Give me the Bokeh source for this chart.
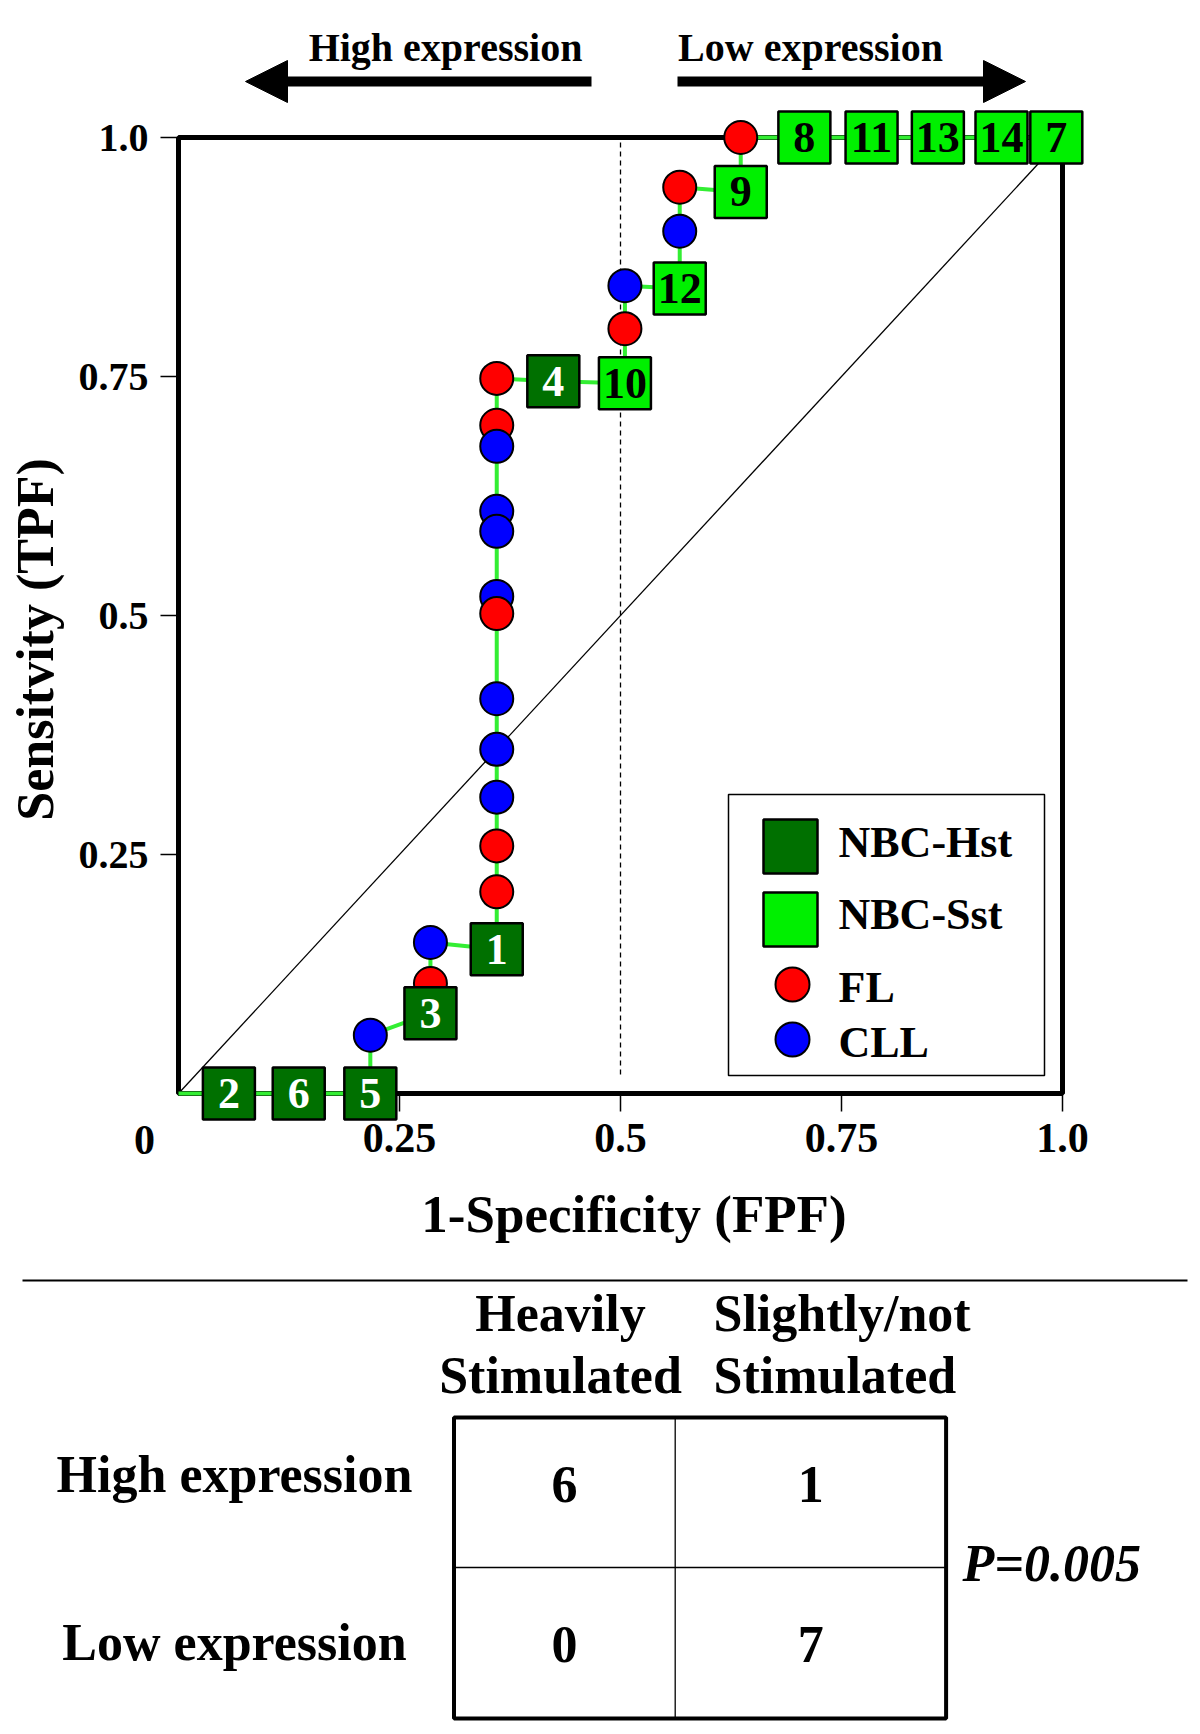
import numpy as np
from bokeh.plotting import figure
from bokeh.models import Range1d, FixedTicker, ColumnDataSource, Arrow, NormalHead
from bokeh.layouts import column
from bokeh.embed import file_html
from bokeh.resources import INLINE
from bokeh.core.properties import value

# ---------------- data ----------------
hst_labels = ["2", "6", "5", "3", "1", "4"]
hst_fpf = [0.057, 0.136, 0.217, 0.285, 0.360, 0.424]
hst_tpf = [0.0, 0.0, 0.0, 0.084, 0.151, 0.745]

sst_labels = ["10", "12", "9", "8", "11", "13", "14", "7"]
sst_fpf = [0.505, 0.567, 0.636, 0.708, 0.784, 0.859, 0.931, 0.993]
sst_tpf = [0.743, 0.842, 0.943, 1.0, 1.0, 1.0, 1.0, 1.0]

fl_fpf = [0.285, 0.360, 0.360, 0.360, 0.360, 0.360, 0.505, 0.567, 0.636]
fl_tpf = [0.115, 0.211, 0.259, 0.502, 0.699, 0.748, 0.800, 0.948, 1.0]

cll_fpf = [0.217, 0.285, 0.360, 0.360, 0.360, 0.360, 0.360, 0.360, 0.360, 0.505, 0.567]
cll_tpf = [0.061, 0.158, 0.310, 0.360, 0.413, 0.520, 0.588, 0.609, 0.677, 0.845, 0.902]

roc_origin = [0.0, 0.0]
chance_line = [0.0, 1.0]
cutoff_fpf = 0.5

x_ticks = [0.25, 0.5, 0.75, 1.0]
x_tick_labels = ["0.25", "0.5", "0.75", "1.0"]
y_ticks = [0.25, 0.5, 0.75, 1.0]
y_tick_labels = ["0.25", "0.5", "0.75", "1.0"]
origin_label = "0"
x_title = "1-Specificity (FPF)"
y_title = "Sensitvity (TPF)"

legend_labels = ["NBC-Hst", "NBC-Sst", "FL", "CLL"]
direction_labels = ["High expression", "Low expression"]

table_rows = ["High expression", "Low expression"]
table_cols_line1 = ["Heavily", "Slightly/not"]
table_cols_line2 = ["Stimulated", "Stimulated"]
table_counts = [[6, 1], [0, 7]]
p_value_text = "P=0.005"

# ---------------- styles / layout ----------------
FONT = value("Liberation Serif")
DARK = "#007000"
LIGHT = "#00f000"
LINE = "#33ee33"
RED = "#ff0000"
BLUE = "#0000ff"

W = 1192
H1 = 1270
H2 = 458
BOX_L, BOX_R, BOX_T, BOX_B = 178, 1062, 137, 1093   # px of the unit box


def gx(cx):
    return (cx - BOX_L) / (BOX_R - BOX_L)


def gy(cy):
    return (BOX_B - cy) / (BOX_B - BOX_T)


p = figure(width=W, height=H1,
           x_range=Range1d(gx(0), gx(W)), y_range=Range1d(gy(H1), gy(0)),
           output_backend="svg", toolbar_location=None, min_border=0,
           outline_line_color=None, background_fill_color="white",
           border_fill_color="white")
p.grid.visible = False

# axes placed on the box edges
xa = p.xaxis[0]
xa.fixed_location = 0
xa.bounds = (0, 1.03)
xa.ticker = FixedTicker(ticks=x_ticks, minor_ticks=[])
xa.major_label_overrides = dict(zip(x_ticks, x_tick_labels))
xa.axis_line_color = None
xa.major_tick_out = 18
xa.major_tick_in = 0
xa.major_tick_line_width = 1.5
xa.minor_tick_out = 0
xa.minor_tick_in = 0
xa.major_label_standoff = 12
xa.major_label_text_font = "Liberation Serif"
xa.major_label_text_font_style = "bold"
xa.major_label_text_font_size = "42px"
xa.major_label_text_color = "black"
xa.axis_label = x_title
xa.axis_label_text_font = "Liberation Serif"
xa.axis_label_text_font_style = "bold"
xa.axis_label_text_font_size = "53px"
xa.axis_label_text_color = "black"
xa.axis_label_standoff = 30

ya = p.yaxis[0]
ya.fixed_location = 0
ya.bounds = (-0.05, 1.0)
ya.ticker = FixedTicker(ticks=y_ticks, minor_ticks=[])
ya.major_label_overrides = dict(zip(y_ticks, y_tick_labels))
ya.axis_line_color = None
ya.major_tick_out = 18
ya.major_tick_in = 0
ya.major_tick_line_width = 1.5
ya.minor_tick_out = 0
ya.minor_tick_in = 0
ya.major_label_standoff = 12
ya.major_label_text_font = "Liberation Serif"
ya.major_label_text_font_style = "bold"
ya.major_label_text_font_size = "40px"
ya.major_label_text_color = "black"
ya.axis_label = y_title
ya.axis_label_text_font = "Liberation Serif"
ya.axis_label_text_font_style = "bold"
ya.axis_label_text_font_size = "52px"
ya.axis_label_text_color = "black"
ya.axis_label_standoff = 12

# origin label
p.text(x=[gx(144)], y=[gy(1139)], text=[origin_label], text_font=FONT,
       text_font_style="bold", text_font_size="42px", text_align="center",
       text_baseline="middle", text_color="black")

# box, chance diagonal, cut-off line
p.quad(left=[0], right=[1], bottom=[0], top=[1], fill_color=None,
       line_color="black", line_width=5)
p.line(x=chance_line, y=chance_line, line_color="black", line_width=1.3)
p.segment(x0=[cutoff_fpf], y0=[0.02], x1=[cutoff_fpf], y1=[1.0],
          line_color="black", line_width=1.3, line_dash="5 4")

# ROC path through all samples (sorted by FPF then TPF)
all_x = np.array(hst_fpf + sst_fpf + fl_fpf + cll_fpf)
all_y = np.array(hst_tpf + sst_tpf + fl_tpf + cll_tpf)
order = np.lexsort((all_y, all_x))
roc_x = [roc_origin[0]] + list(all_x[order])
roc_y = [roc_origin[1]] + list(all_y[order])
p.line(x=roc_x, y=roc_y, line_color=LINE, line_width=4)

# tumour samples (circles), drawn top-down so lower ones overlay
cx = np.array(fl_fpf + cll_fpf)
cy = np.array(fl_tpf + cll_tpf)
cc = np.array([RED] * len(fl_fpf) + [BLUE] * len(cll_fpf))
co = np.argsort(-cy, kind="stable")
circ = ColumnDataSource(dict(x=cx[co], y=cy[co], c=cc[co]))
p.scatter(x="x", y="y", source=circ, marker="circle", size=33,
          fill_color="c", line_color="black", line_width=2)

# normal B cell samples (squares)
sq = ColumnDataSource(dict(
    x=hst_fpf + sst_fpf, y=hst_tpf + sst_tpf,
    lab=hst_labels + sst_labels,
    fc=[DARK] * len(hst_fpf) + [LIGHT] * len(sst_fpf),
    tc=["white"] * len(hst_fpf) + ["black"] * len(sst_fpf)))
p.scatter(x="x", y="y", source=sq, marker="square", size=52,
          fill_color="fc", line_color="black", line_width=2.5)
p.text(x="x", y="y", text="lab", source=sq, text_color="tc", text_font=FONT,
       text_font_style="bold", text_font_size="44px", text_align="center",
       text_baseline="middle")

# legend
p.quad(left=[gx(728)], right=[gx(1044)], top=[gy(794)], bottom=[gy(1075)],
       fill_color="white", line_color="black", line_width=1.5)
p.scatter(x=[gx(790), gx(790)], y=[gy(846), gy(919)], marker="square", size=54,
          fill_color=[DARK, LIGHT], line_color="black", line_width=2.5)
p.scatter(x=[gx(792), gx(792)], y=[gy(984), gy(1039)], marker="circle", size=34,
          fill_color=[RED, BLUE], line_color="black", line_width=2)
p.text(x=[gx(838)] * 4, y=[gy(842), gy(914), gy(987), gy(1042)], text=legend_labels,
       text_font=FONT, text_font_style="bold", text_font_size="44px",
       text_align="left", text_baseline="middle", text_color="black")

# expression direction arrows
p.text(x=[gx(445), gx(810)], y=[gy(47), gy(47)], text=direction_labels,
       text_font=FONT, text_font_style="bold", text_font_size="40px",
       text_align="center", text_baseline="middle", text_color="black")
p.add_layout(Arrow(end=NormalHead(size=42, fill_color="black", line_color="black"),
                   x_start=gx(591), y_start=gy(81), x_end=gx(245), y_end=gy(81),
                   line_color="black", line_width=10))
p.add_layout(Arrow(end=NormalHead(size=42, fill_color="black", line_color="black"),
                   x_start=gx(677), y_start=gy(81), x_end=gx(1025), y_end=gy(81),
                   line_color="black", line_width=10))

# ---------------- contingency table ----------------
t = figure(width=W, height=H2, x_range=Range1d(0, W), y_range=Range1d(H2, 0),
           output_backend="svg", toolbar_location=None, min_border=0,
           outline_line_color=None, x_axis_location=None, y_axis_location=None,
           background_fill_color="white", border_fill_color="white")
t.grid.visible = False

col_edges = [453.5, 674.7, 945.6]
row_edges = [147, 297, 448]
col_mid = [(col_edges[i] + col_edges[i + 1]) / 2 for i in range(2)]
value_y = [214, 374]
row_label_y = [204, 372]

t.segment(x0=[22], y0=[10], x1=[1187], y1=[10], line_color="black", line_width=2)

t.text(x=[560, 713], y=[43, 43], text=table_cols_line1, text_font=FONT,
       text_font_style="bold", text_font_size="52px",
       text_align=["center", "left"], text_baseline="middle", text_color="black")
t.text(x=[560, 713], y=[105, 105], text=table_cols_line2, text_font=FONT,
       text_font_style="bold", text_font_size="52px",
       text_align=["center", "left"], text_baseline="middle", text_color="black")

t.segment(x0=[col_edges[1], col_edges[0]], y0=[row_edges[0], row_edges[1]],
          x1=[col_edges[1], col_edges[2]], y1=[row_edges[2], row_edges[1]],
          line_color="black", line_width=1.3)
t.quad(left=[col_edges[0]], right=[col_edges[2]], top=[row_edges[0]],
       bottom=[row_edges[2]], fill_color=None, line_color="black", line_width=4)

vx, vy, vt = [], [], []
for r in range(2):
    for c in range(2):
        vx.append(col_mid[c])
        vy.append(value_y[r])
        vt.append(str(table_counts[r][c]))
t.text(x=vx, y=vy, text=vt, text_font=FONT, text_font_style="bold",
       text_font_size="52px", text_align="center", text_baseline="middle",
       text_color="black")

t.text(x=[234, 234], y=row_label_y, text=table_rows, text_font=FONT,
       text_font_style="bold", text_font_size="52px", text_align="center",
       text_baseline="middle", text_color="black")

t.text(x=[962], y=[293], text=[p_value_text], text_font=FONT,
       text_font_style="bold italic", text_font_size="52px", text_align="left",
       text_baseline="middle", text_color="black")

layout = column(p, t, spacing=0)
open("out.html", "w").write(file_html(layout, INLINE))
